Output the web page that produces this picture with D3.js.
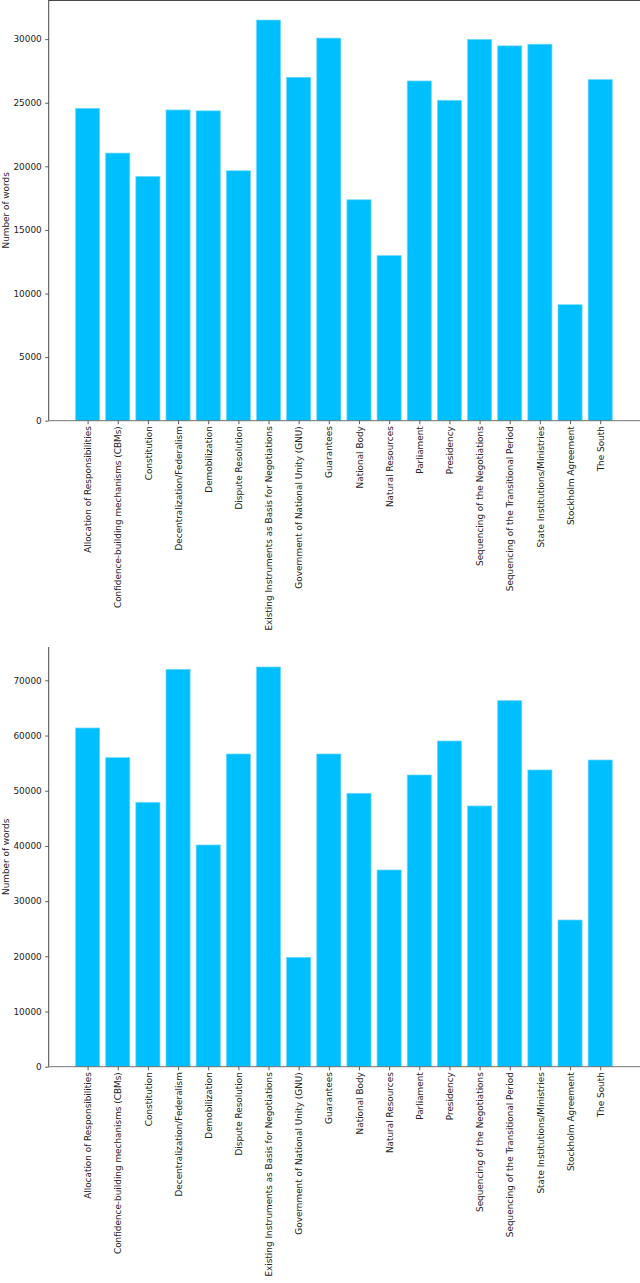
<!DOCTYPE html>
<html>
<head>
<meta charset="utf-8">
<script src="https://cdn.jsdelivr.net/npm/d3@7"></script>
<style>
  html, body { margin: 0; padding: 0; background: #fff; }
  svg { display: block; }
  text { font-family: "DejaVu Sans", sans-serif; fill: #222; }
</style>
</head>
<body>
<svg id="chart" width="640" height="1283"></svg>
<script>
const categories = [
  "Allocation of Responsibilities",
  "Confidence-building mechanisms (CBMs)",
  "Constitution",
  "Decentralization/Federalism",
  "Demobilization",
  "Dispute Resolution",
  "Existing Instruments as Basis for Negotiations",
  "Government of National Unity (GNU)",
  "Guarantees",
  "National Body",
  "Natural Resources",
  "Parliament",
  "Presidency",
  "Sequencing of the Negotiations",
  "Sequencing of the Transitional Period",
  "State Institutions/Ministries",
  "Stockholm Agreement",
  "The South"
];
const wordsTop = [24560, 21040, 19200, 24430, 24360, 19650, 31500, 27000, 30080, 17370, 12980, 26710, 25190, 29980, 29470, 29600, 9120, 26820];
const wordsBottom = [61370, 55990, 47900, 72000, 40170, 56660, 72420, 19820, 56660, 49540, 35640, 52850, 59010, 47240, 66320, 53760, 26580, 55570];
const ticksTop = [0, 5000, 10000, 15000, 20000, 25000, 30000];
const ticksBottom = [0, 10000, 20000, 30000, 40000, 50000, 60000, 70000];
const yLabel = "Number of words";

const svg = d3.select("#chart");
const FS = 8.9;
const n = categories.length;
const xMinData = -0.4, xMaxData = (n - 1) + 0.4;
const xPad = 0.05 * (xMaxData - xMinData);

function drawPanel(values, ticks, top, bottom, showTopSpine) {
  const left = 48.7, right = 639.1;
  const x = d3.scaleLinear().domain([xMinData - xPad, xMaxData + xPad]).range([left, right]);
  const y = d3.scaleLinear().domain([0, d3.max(values) * 1.05]).range([bottom, top]);
  const g = svg.append("g");

  // bars
  g.selectAll("rect.bar").data(values).enter().append("rect")
    .attr("class", "bar")
    .attr("x", (d, i) => x(i - 0.4))
    .attr("width", (d, i) => x(i + 0.4) - x(i - 0.4))
    .attr("y", d => y(d))
    .attr("height", d => y(0) - y(d))
    .attr("fill", "#00BFFF")
    .attr("stroke", "#6fd9ff")
    .attr("stroke-width", 0.7);

  // y axis
  const yAxis = d3.axisLeft(y).tickValues(ticks).tickSize(3.5).tickPadding(3.5).tickFormat(d3.format("d"));
  const ya = g.append("g").attr("transform", `translate(${left},0)`).call(yAxis);
  ya.select(".domain").remove();
  ya.selectAll(".tick line").attr("stroke", "#333").attr("stroke-width", 0.8);
  ya.selectAll(".tick text").attr("font-size", FS).attr("font-family", "DejaVu Sans").attr("fill", "#222");

  // x axis
  const xAxis = d3.axisBottom(x).tickValues(d3.range(n)).tickSize(3.5).tickPadding(2).tickFormat(i => categories[i]);
  const xa = g.append("g").attr("transform", `translate(0,${bottom})`).call(xAxis);
  xa.select(".domain").remove();
  xa.selectAll(".tick line").attr("stroke", "#333").attr("stroke-width", 0.8);
  xa.selectAll(".tick text")
    .attr("font-size", FS).attr("font-family", "DejaVu Sans").attr("fill", "#222")
    .attr("text-anchor", "end")
    .attr("dy", "0.35em")
    .attr("transform", "translate(0,5.5) rotate(-90)")
    .attr("x", 0).attr("y", 0);

  // spines
  g.append("line").attr("x1", left).attr("x2", left).attr("y1", top).attr("y2", bottom)
    .attr("stroke", "#333").attr("stroke-width", 0.9);
  g.append("line").attr("x1", left).attr("x2", 640).attr("y1", bottom).attr("y2", bottom)
    .attr("stroke", "#666").attr("stroke-width", 0.9);
  if (showTopSpine) {
    g.append("line").attr("x1", left).attr("x2", 640).attr("y1", top + 0.5).attr("y2", top + 0.5)
      .attr("stroke", "#333").attr("stroke-width", 0.9);
  }

  // y label
  g.append("text")
    .attr("transform", `translate(5.7,${(top + bottom) / 2}) rotate(-90)`)
    .attr("text-anchor", "middle").attr("dy", "0.35em")
    .attr("font-size", FS)
    .text(yLabel);
}

drawPanel(wordsTop, ticksTop, 0, 420.7, true);
drawPanel(wordsBottom, ticksBottom, 647, 1066.7, false);
</script>
</body>
</html>
